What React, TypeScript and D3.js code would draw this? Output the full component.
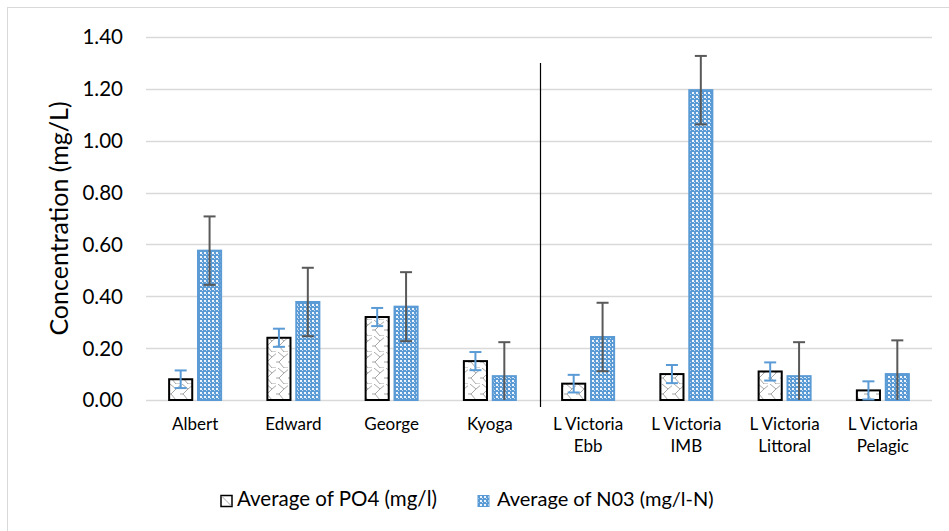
import React from "react";
import * as d3 from "d3";

const categories = ["Albert", "Edward", "George", "Kyoga", "L Victoria Ebb", "L Victoria IMB", "L Victoria Littoral", "L Victoria Pelagic"];
const categoryLines = [["Albert"], ["Edward"], ["George"], ["Kyoga"], ["L Victoria", "Ebb"], ["L Victoria", "IMB"], ["L Victoria", "Littoral"], ["L Victoria", "Pelagic"]];
const seriesNames = ["Average of PO4 (mg/l)", "Average of N03 (mg/l-N)"];
const po4 = [0.08, 0.24, 0.32, 0.15, 0.063, 0.10, 0.11, 0.037];
const po4Err = [0.034, 0.035, 0.035, 0.035, 0.034, 0.035, 0.035, 0.035];
const no3 = [0.576, 0.378, 0.36, 0.092, 0.243, 1.195, 0.092, 0.10];
const no3Err = [0.132, 0.132, 0.133, 0.131, 0.132, 0.132, 0.131, 0.13];
const yTicks = [0, 0.2, 0.4, 0.6, 0.8, 1.0, 1.2, 1.4];
const dividerTop = 1.3;

const W = 949;
const H = 531;
const FONT = "Lato, 'Open Sans', sans-serif";

export default function App() {
  const x = d3.scaleBand<string>().domain(categories).range([146, 932]).paddingInner(0).paddingOuter(0);
  const inner = d3.scaleBand<string>().domain(seriesNames).range([0, 52]).paddingInner(0.2);
  const y = d3.scaleLinear().domain([0, 1.4]).range([400, 37]);
  const groupOff = x.bandwidth() / 2 - 26;
  const bw = inner.bandwidth();
  const series = [
    { name: seriesNames[0], vals: po4, err: po4Err, fill: "url(#po4pat)", stroke: "#000000", errColor: "#5B9BD5" },
    { name: seriesNames[1], vals: no3, err: no3Err, fill: "url(#no3pat)", stroke: "#5B9BD5", errColor: "#595959" },
  ];
  const divX = (x(categories[3]) as number) + x.bandwidth() + 1.5;

  return (
    <svg width={W} height={H} style={{ position: "absolute", left: 0, top: 0, background: "#fff" }} fontFamily={FONT}>
      <defs>
        <pattern id="po4pat" patternUnits="userSpaceOnUse" width="12" height="16">
          <rect width="12" height="16" fill="#fff" />
          <path d="M2,0 L8,5 L3,10 L8,16 M14,0 L8,5 M-4,10 L3,10 M8,16 L14,16" fill="none" stroke="#A6A6A6" strokeWidth="1" />
        </pattern>
        <pattern id="no3pat" patternUnits="userSpaceOnUse" width="4" height="4">
          <rect width="4" height="4" fill="#5B9BD5" />
          <rect x="0" y="0" width="2" height="2" fill="#fff" opacity="0.9" />
          <rect x="2" y="2" width="1" height="1" fill="#fff" opacity="0.7" />
        </pattern>
      </defs>
      <rect x={7.5} y={7.5} width={1000} height={1000} fill="#fff" stroke="#D9D9D9" strokeWidth={1} />
      {yTicks.map((t) => (
        <g key={t}>
          <line x1={146} x2={932} y1={Math.round(y(t)) + 0.5} y2={Math.round(y(t)) + 0.5} stroke="#D9D9D9" strokeWidth={1.5} />
          <text x={123} y={y(t)} dy="0.36em" textAnchor="end" fontSize={20.5} fill="#000">
            {d3.format(".2f")(t)}
          </text>
        </g>
      ))}
      <text transform={`translate(59,${y(0.7)}) rotate(-90)`} textAnchor="middle" dy="0.35em" fontSize={25} fill="#000">
        Concentration (mg/L)
      </text>
      {series.map((s, si) =>
        categories.map((c, i) => {
          const bx = (x(c) as number) + groupOff + (inner(s.name) as number);
          const top = y(s.vals[i]);
          return (
            <rect key={`${si}-${i}`} x={bx} y={top} width={bw} height={y(0) - top} fill={s.fill} stroke={s.stroke} strokeWidth={2} />
          );
        })
      )}
      {series.map((s, si) =>
        categories.map((c, i) => {
          const cx = (x(c) as number) + groupOff + (inner(s.name) as number) + bw / 2;
          const hi = y(s.vals[i] + s.err[i]);
          const loV = Math.max(0, s.vals[i] - s.err[i]);
          const lo = y(loV);
          const clipped = s.vals[i] - s.err[i] < 0;
          return (
            <g key={`e${si}-${i}`} stroke={s.errColor} strokeWidth={2}>
              <line x1={cx} x2={cx} y1={hi} y2={lo} />
              <line x1={cx - 6} x2={cx + 6} y1={hi} y2={hi} />
              {!clipped && <line x1={cx - 6} x2={cx + 6} y1={lo} y2={lo} />}
            </g>
          );
        })
      )}
      <line x1={divX} x2={divX} y1={y(dividerTop)} y2={y(0) + 7} stroke="#000" strokeWidth={1.2} />
      {categories.map((c, i) => (
        <text key={c} x={(x(c) as number) + x.bandwidth() / 2} y={430} textAnchor="middle" fontSize={17} fill="#000">
          {categoryLines[i].map((l, k) => (
            <tspan key={k} x={(x(c) as number) + x.bandwidth() / 2} dy={k === 0 ? 0 : 22}>
              {l}
            </tspan>
          ))}
        </text>
      ))}
      <g>
        <rect x={221} y={495.5} width={11} height={11} fill="#fff" stroke="#000" strokeWidth={1.5} />
        <line x1={222} y1={496.5} x2={231} y2={505.5} stroke="#A6A6A6" strokeWidth={1} />
        <text x={237} y={506} fontSize={20.5} fill="#000">{seriesNames[0]}</text>
        <rect x={478} y={495.5} width={11} height={11} fill="url(#no3pat)" stroke="#5B9BD5" strokeWidth={1} />
        <text x={497} y={506} fontSize={20} fill="#000">{seriesNames[1]}</text>
      </g>
    </svg>
  );
}
